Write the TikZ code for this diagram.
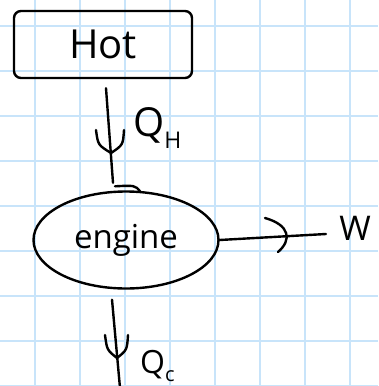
\documentclass[tikz,border=0pt]{standalone}
\usepackage{fontspec}
\setmainfont{Open Sans}
\usetikzlibrary{shapes.geometric}
\definecolor{gridblue}{RGB}{200,228,250}
\begin{document}
\begin{tikzpicture}[x=1pt,y=-1pt,
  pen/.style={line width=2.4pt, line cap=round, line join=round, black},
  gridline/.style={gridblue, line width=1.5pt},
  txt/.style={inner sep=0pt, font=\fontsize{#1}{#1}\selectfont},
  pics/chevron/.style 2 args={code={
    \draw[pen] (#1,-23) .. controls (#1+2,-8) .. (0,0)
               .. controls (#2-1,-8) .. (#2,-23);}}]
\useasboundingbox (0,0) rectangle (378,386);
\fill[white] (0,0) rectangle (378,386);
% squared paper
\foreach \x in {35,80,...,350} \draw[gridline] (\x,0) -- (\x,386);
\foreach \y in {26,71,...,386} \draw[gridline] (0,\y) -- (378,\y);

% reservoir and engine
\node[pen, draw, rectangle, rounded corners=7pt, minimum width=178pt,
      minimum height=67pt, inner sep=0pt, font=\fontsize{40}{40}\selectfont]
      (hot) at (103,44.5) {Hot};
\node[pen, draw, ellipse, minimum width=185pt, minimum height=97pt,
      inner sep=0pt, font=\fontsize{33}{33}\selectfont]
      (engine) at (126,240) {engine};
\draw[pen] ([shift={(-11,-4)}]engine.north) .. controls ([shift={(9,-5)}]engine.north)
      .. ([shift={(14,1)}]engine.north);

% heat in from the hot reservoir
\draw[pen] ([shift={(3,9)}]hot.south) -- ([shift={(-13,-7.5)}]engine.north);
\pic at (111,153) {chevron={-15}{13}};
\node[txt=40, anchor=base west] (qh) at (133,136)
      {Q\raisebox{-0.3em}{\fontsize{23}{23}\selectfont H}};

% work out
\coordinate (wend) at (326,234);
\draw[pen] (engine.east) -- (wend);
\draw[pen] (265,218) .. controls (290,225) and (292,240) .. (278,252);
\node[txt=34] (w) at (355,228) {W};

% heat rejected
\coordinate (qcend) at (120,388);
\draw[pen] ([shift={(-14,10)}]engine.south) -- (qcend);
\pic at (117,358) {chevron={-12}{11}};
\node[txt=32, anchor=base west] (qc) at (140,373)
      {Q\raisebox{-0.25em}{\fontsize{20}{20}\selectfont c}};
\end{tikzpicture}
\end{document}
